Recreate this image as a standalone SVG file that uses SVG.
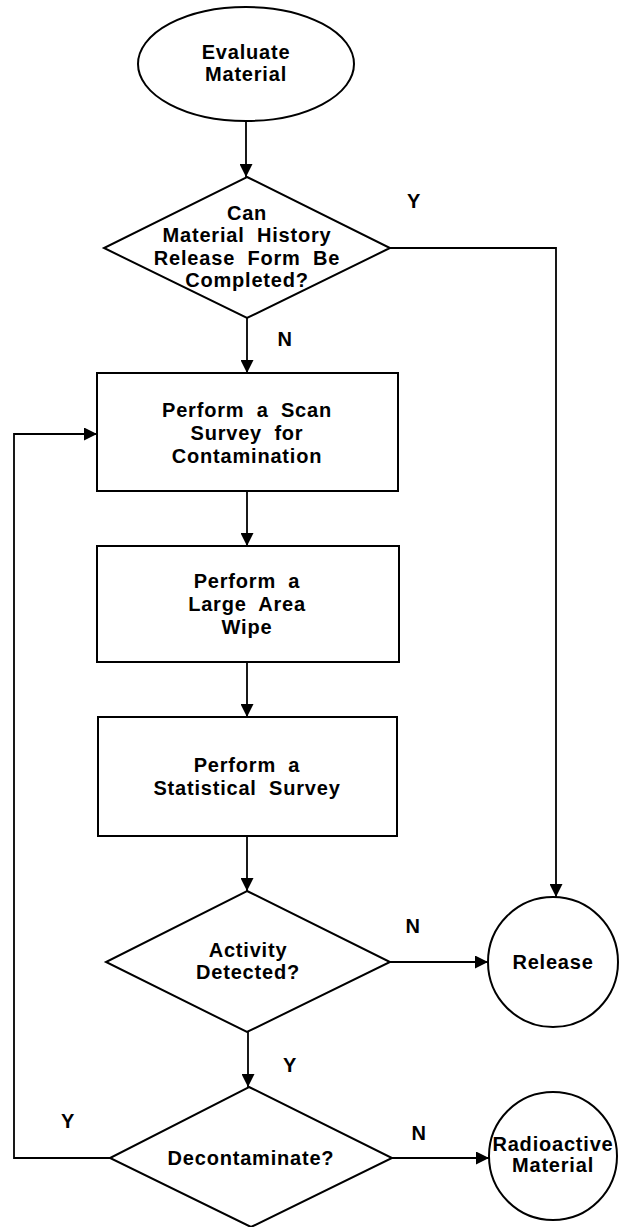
<svg xmlns="http://www.w3.org/2000/svg" width="619" height="1227" viewBox="0 0 619 1227">
<style>
.s{fill:#fff;stroke:#000;stroke-width:2}
.c{fill:none;stroke:#000;stroke-width:1.8}
.t{font-family:"Liberation Sans",Arial,sans-serif;font-weight:bold;font-size:20px;letter-spacing:0.8px;word-spacing:6px;text-anchor:middle;fill:#000}
</style>
<defs>
<marker id="ah" markerUnits="userSpaceOnUse" markerWidth="14" markerHeight="13" refX="13" refY="6.5" orient="auto">
<path d="M0,0 L13,6.5 L0,13 z" fill="#000"/>
</marker>
</defs>
<rect width="619" height="1227" fill="#fff"/>
<g id="connectors">
<line class="c" x1="246" y1="121" x2="246" y2="177" marker-end="url(#ah)"/>
<polyline class="c" points="390,248 556,248 556,897" marker-end="url(#ah)"/>
<line class="c" x1="247" y1="318" x2="247" y2="373" marker-end="url(#ah)"/>
<line class="c" x1="247" y1="491" x2="247" y2="546" marker-end="url(#ah)"/>
<line class="c" x1="247" y1="662" x2="247" y2="717" marker-end="url(#ah)"/>
<line class="c" x1="247" y1="836" x2="247" y2="891" marker-end="url(#ah)"/>
<line class="c" x1="390" y1="962" x2="488" y2="962" marker-end="url(#ah)"/>
<line class="c" x1="248" y1="1032" x2="248" y2="1087" marker-end="url(#ah)"/>
<line class="c" x1="392" y1="1158" x2="489" y2="1158" marker-end="url(#ah)"/>
<polyline class="c" points="110,1158 14,1158 14,434 97,434" marker-end="url(#ah)"/>
</g>
<g id="labels">
<text class="t" x="414" y="208">Y</text>
<text class="t" x="285" y="346">N</text>
<text class="t" x="413" y="933">N</text>
<text class="t" x="290" y="1072">Y</text>
<text class="t" x="68" y="1128">Y</text>
<text class="t" x="419" y="1140">N</text>
</g>
<g id="evaluate">
<ellipse class="s" cx="246" cy="64" rx="108" ry="57"/>
<text class="t" x="246" y="59">Evaluate</text>
<text class="t" x="246" y="81">Material</text>
</g>
<g id="canrelease">
<polygon class="s" points="247,177 390,248 247,318 104,248"/>
<text class="t" x="247" y="220">Can</text>
<text class="t" x="247" y="242">Material History</text>
<text class="t" x="247" y="265">Release Form Be</text>
<text class="t" x="247" y="287">Completed?</text>
</g>
<g id="scan">
<rect class="s" x="97" y="373" width="301" height="118"/>
<text class="t" x="247" y="417">Perform a Scan</text>
<text class="t" x="247" y="440">Survey for</text>
<text class="t" x="247" y="463">Contamination</text>
</g>
<g id="wipe">
<rect class="s" x="97" y="546" width="302" height="116"/>
<text class="t" x="247" y="588">Perform a</text>
<text class="t" x="247" y="611">Large Area</text>
<text class="t" x="247" y="634">Wipe</text>
</g>
<g id="statistical">
<rect class="s" x="98" y="717" width="299" height="119"/>
<text class="t" x="247" y="772">Perform a</text>
<text class="t" x="247" y="795">Statistical Survey</text>
</g>
<g id="activity">
<polygon class="s" points="247,891 390,962 247,1032 106,962"/>
<text class="t" x="248" y="957">Activity</text>
<text class="t" x="248" y="979">Detected?</text>
</g>
<g id="release">
<circle class="s" cx="553" cy="962" r="65"/>
<text class="t" x="553" y="969">Release</text>
</g>
<g id="decontaminate">
<polygon class="s" points="249,1087 392,1158 251,1227 110,1158"/>
<text class="t" x="251" y="1165">Decontaminate?</text>
</g>
<g id="radioactive">
<circle class="s" cx="553" cy="1156" r="64"/>
<text class="t" x="553" y="1151">Radioactive</text>
<text class="t" x="553" y="1172">Material</text>
</g>
</svg>
